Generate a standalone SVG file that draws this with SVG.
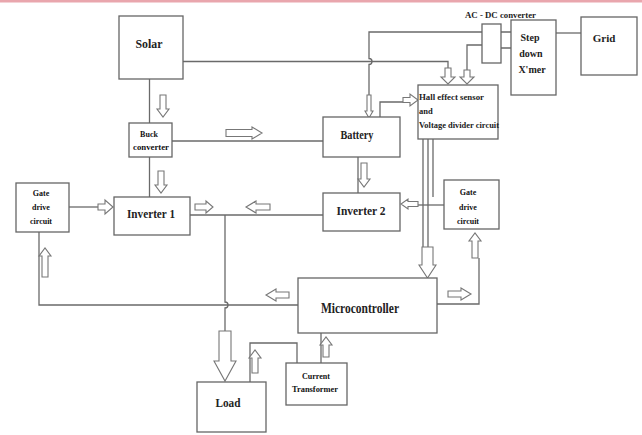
<svg xmlns="http://www.w3.org/2000/svg" width="642" height="435" viewBox="0 0 642 435">
<style>
.box{fill:#fff;stroke:#666;stroke-width:1.3}
.ln{fill:none;stroke:#6a6a6a;stroke-width:1.3}
.ar{fill:#fff;stroke:#777;stroke-width:1.1}
.t{font-family:"Liberation Serif","Times New Roman",serif;fill:#222;text-anchor:middle;font-weight:bold}
.s{font-family:"Liberation Serif","Times New Roman",serif;fill:#111;text-anchor:middle;font-size:8px;font-weight:bold}
.l{font-family:"Liberation Serif","Times New Roman",serif;fill:#222;font-weight:bold;font-size:8.5px}
</style>
<rect x="0" y="0" width="642" height="435" fill="#fff"/>
<rect x="0" y="0" width="642" height="2.5" fill="#e9a6ad"/>

<g id="connectors">
  <path class="ln" d="M149.5,79 V123"/>
  <path class="ln" d="M149.5,157 V197"/>
  <path class="ln" d="M172,141 H323"/>
  <path class="ln" d="M183,61.5 H448 V68"/>
  <path class="ln" d="M482,32 H369 V58.5 A3,3 0 0 1 369,64.5 V95"/>
  <path class="ln" d="M483,45 H467 V70"/>
  <path class="ln" d="M380,117 V102 H403"/>
  <path class="ln" d="M500,32 H511 M500,48 H511"/>
  <path class="ln" d="M556,33 H581"/>
  <path class="ln" d="M358,157 V193"/>
  <path class="ln" d="M190,215 H323"/>
  <path class="ln" d="M225,215 V302 A3,3 0 0 1 225,308 V331"/>
  <path class="ln" d="M69,207 H98"/>
  <path class="ln" d="M298,305 H39 V232"/>
  <path class="ln" d="M423,139 V247 M428,139 V247 M433,139 V197"/>
  <path class="ln" d="M444,205 H418"/>
  <path class="ln" d="M437,304 H479 V258"/>
  <path class="ln" d="M321,363 V333"/>
  <path class="ln" d="M297,363 V343 H250 V382"/>
  <path class="ar" d="M160,95 H166 V109 H169 L163,117 L157,109 H160 Z"/>
  <path class="ar" d="M158,171 H164 V185 H167 L161,193 L155,185 H158 Z"/>
  <path class="ar" d="M445,68 H451 V77 H455 L448,84 L441,77 H445 Z"/>
  <path class="ar" d="M464,70 H470 V77 H474 L467,84 L460,77 H464 Z"/>
  <path class="ar" d="M367,95 H371 V111 H373 L369,118 L365,111 H367 Z"/>
  <path class="ar" d="M361,163 H367 V179 H370 L364,187 L358,179 H361 Z"/>
  <path class="ar" d="M219,331 H231 V361 H236 L225,381 L214,361 H219 Z"/>
  <path class="ar" d="M422,247 H433 V265 H436 L427.5,278 L419,265 H422 Z"/>
  <path class="ar" d="M42,277 H48 V256 H51 L45,248 L39,256 H42 Z"/>
  <path class="ar" d="M472,258 H478 V241 H481 L475,233 L469,241 H472 Z"/>
  <path class="ar" d="M323,357 H329 V345 H332 L326,337 L320,345 H323 Z"/>
  <path class="ar" d="M252,373 H258 V358 H261 L255,350 L249,358 H252 Z"/>
  <path class="ar" d="M226,129.5 V136.5 H252 V139 L262,133 L252,127 V129.5 Z"/>
  <path class="ar" d="M195,204 V210 H206 V213 L213,207 L206,201 V204 Z"/>
  <path class="ar" d="M98,204 V210 H105 V214 L113,207 L105,200 V204 Z"/>
  <path class="ar" d="M403,97.5 V102.5 H410 V106 L418,100 L410,94 V97.5 Z"/>
  <path class="ar" d="M270,204 V210 H256 V213 L246,207 L256,201 V204 Z"/>
  <path class="ar" d="M289,292 V298 H276 V301 L266,295 L276,289 V292 Z"/>
  <path class="ar" d="M418,201.5 V206.5 H408 V209 L401,204 L408,199 V201.5 Z"/>
  <path class="ar" d="M448,291 V297 H461 V300 L471,294 L461,288 V291 Z"/>
</g>

<g id="solar"><rect class="box" x="119" y="16" width="64" height="63"/><text class="t" x="149" y="48" font-size="12" textLength="27" lengthAdjust="spacingAndGlyphs">Solar</text></g>
<g id="buck"><rect class="box" x="129" y="123" width="43" height="34"/><text class="s" x="149" y="137">Buck</text><text class="s" x="151" y="150" textLength="36" lengthAdjust="spacingAndGlyphs">converter</text></g>
<g id="battery"><rect class="box" x="323" y="117" width="77" height="40"/><text class="t" x="357" y="139" font-size="12" textLength="33" lengthAdjust="spacingAndGlyphs">Battery</text></g>
<g id="hall"><rect class="box" x="418" y="85" width="80" height="54"/><text class="l" x="419" y="100" textLength="65" lengthAdjust="spacingAndGlyphs">Hall effect sensor</text><text class="l" x="419" y="114">and</text><text class="l" x="419" y="128" textLength="80" lengthAdjust="spacingAndGlyphs">Voltage divider circuit</text></g>
<g id="acdc"><rect class="box" x="482" y="24" width="19" height="39"/><text class="l" x="465" y="18" font-size="9" textLength="71" lengthAdjust="spacingAndGlyphs">AC - DC converter</text></g>
<g id="stepdown"><rect class="box" x="511" y="20" width="45" height="75"/><text class="t" x="530" y="41" font-size="10">Step</text><text class="t" x="531" y="57" font-size="10">down</text><text class="t" x="532" y="73" font-size="10">X'mer</text></g>
<g id="grid"><rect class="box" x="581" y="17" width="56" height="58"/><text class="t" x="604" y="42" font-size="11">Grid</text></g>
<g id="gate-left"><rect class="box" x="16" y="183" width="53" height="49"/><text class="s" x="41" y="196">Gate</text><text class="s" x="41" y="210">drive</text><text class="s" x="41" y="224">circuit</text></g>
<g id="inverter1"><rect class="box" x="114" y="197" width="76" height="38"/><text class="t" x="151" y="218" font-size="13" textLength="48" lengthAdjust="spacingAndGlyphs">Inverter 1</text></g>
<g id="inverter2"><rect class="box" x="323" y="193" width="77" height="38"/><text class="t" x="361" y="215" font-size="13" textLength="49" lengthAdjust="spacingAndGlyphs">Inverter 2</text></g>
<g id="gate-right"><rect class="box" x="444" y="180" width="55" height="49"/><text class="s" x="468" y="195">Gate</text><text class="s" x="468" y="210">drive</text><text class="s" x="468" y="224">circuit</text></g>
<g id="microcontroller"><rect class="box" x="298" y="278" width="139" height="55"/><text class="t" x="360" y="313" font-size="14" textLength="78" lengthAdjust="spacingAndGlyphs">Microcontroller</text></g>
<g id="load"><rect class="box" x="197" y="382" width="69" height="50"/><text class="t" x="228" y="407" font-size="12" textLength="25" lengthAdjust="spacingAndGlyphs">Load</text></g>
<g id="ct"><rect class="box" x="286" y="363" width="61" height="42"/><text class="s" x="316" y="379" textLength="28" lengthAdjust="spacingAndGlyphs">Current</text><text class="s" x="315" y="392" textLength="46" lengthAdjust="spacingAndGlyphs">Transformer</text></g>
</svg>
